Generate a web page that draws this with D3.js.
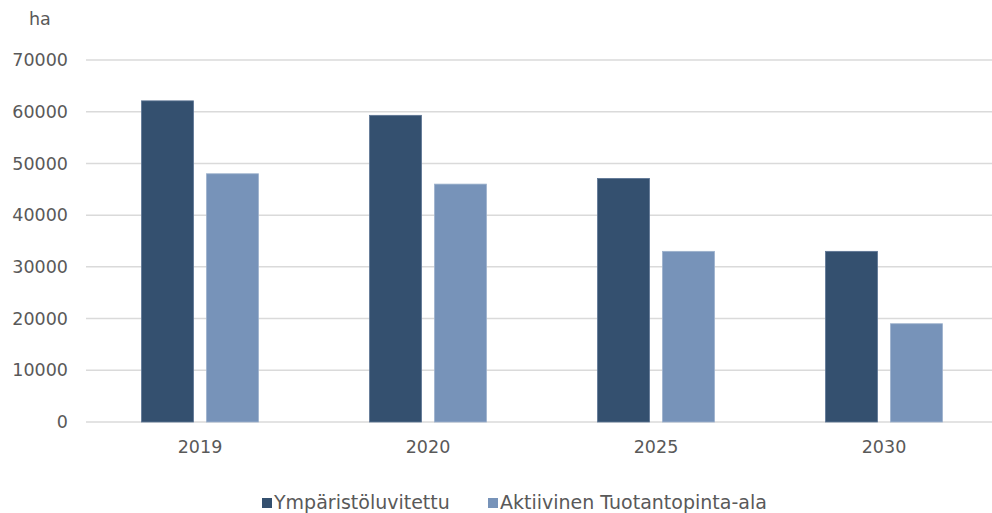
<!DOCTYPE html>
<html>
<head>
<meta charset="utf-8">
<script src="https://cdn.jsdelivr.net/npm/d3@7"></script>
<style>
  body { margin: 0; background: #fff; }
  svg { display: block; font-family: "DejaVu Sans", Verdana, sans-serif; }
  .tick text { fill: #595959; }
</style>
</head>
<body>
<svg id="chart" width="992" height="513"></svg>
<script>
// data
var years = ['2019', '2020', '2025', '2030']
var seriesNames = ['Ympäristöluvitettu', 'Aktiivinen Tuotantopinta-ala']
var ymparistoluvitettu = [62100, 59300, 47100, 33000]
var aktiivinen = [48000, 46000, 33000, 19000]
var yTicks = [0, 10000, 20000, 30000, 40000, 50000, 60000, 70000]
var colors = ['#34506f', '#7793b9']

var margin = { top: 60, right: -6, bottom: 91, left: 86 }
var width = 992, height = 513
var fontSize = '17.5px'

var svg = d3.select('#chart')

var x = d3.scaleBand()
  .domain(years)
  .range([margin.left, width - margin.right])
  .paddingInner(0.487)
  .paddingOuter(0.2435)

var xSub = d3.scaleBand()
  .domain([0, 1])
  .range([0, x.bandwidth()])
  .paddingInner(0.2)

var y = d3.scaleLinear()
  .domain([0, 70000])
  .range([height - margin.bottom, margin.top])

// grid lines
svg.append('g')
  .selectAll('line')
  .data(yTicks)
  .join('line')
  .attr('x1', margin.left)
  .attr('x2', width)
  .attr('y1', d => y(d))
  .attr('y2', d => y(d))
  .attr('stroke', '#dadada')
  .attr('stroke-width', 1.5)

// y axis labels
var yAxis = d3.axisLeft(y).tickValues(yTicks).tickFormat(d3.format('d')).tickSize(0).tickPadding(18)
svg.append('g')
  .attr('transform', 'translate(' + margin.left + ',0)')
  .call(yAxis)
  .call(g => g.select('.domain').remove())
  .selectAll('text')
  .style('font-size', fontSize)
  .style('font-family', '"DejaVu Sans", Verdana, sans-serif')

// x axis labels
var xAxis = d3.axisBottom(x).tickSize(0).tickPadding(19)
svg.append('g')
  .attr('transform', 'translate(0,' + (height - margin.bottom) + ')')
  .call(xAxis)
  .call(g => g.select('.domain').remove())
  .selectAll('text')
  .style('font-size', fontSize)
  .style('font-family', '"DejaVu Sans", Verdana, sans-serif')

// bars
var rows = years.map((yr, i) => ({ year: yr, values: [ymparistoluvitettu[i], aktiivinen[i]] }))

svg.append('g')
  .selectAll('g')
  .data(rows)
  .join('g')
  .attr('transform', d => 'translate(' + x(d.year) + ',0)')
  .selectAll('rect')
  .data(d => d.values.map((v, k) => ({ k: k, v: v })))
  .join('rect')
  .attr('x', d => xSub(d.k))
  .attr('width', xSub.bandwidth())
  .attr('y', d => y(d.v))
  .attr('height', d => y(0) - y(d.v))
  .attr('fill', d => colors[d.k])
  .attr('stroke', d => d.k === 0 ? '#5d7594' : '#9db1cc')
  .attr('stroke-width', 0.8)

// unit label
svg.append('text')
  .attr('x', 29)
  .attr('y', 25)
  .attr('fill', '#595959')
  .style('font-size', fontSize)
  .text('ha')

// legend
var legendX = [262, 488]
var legend = svg.append('g')
  .selectAll('g')
  .data(seriesNames)
  .join('g')
  .attr('transform', (d, i) => 'translate(' + legendX[i] + ',498)')

legend.append('rect')
  .attr('width', 10)
  .attr('height', 10)
  .attr('fill', (d, i) => colors[i])

legend.append('text')
  .attr('x', 12)
  .attr('y', 11)
  .attr('fill', '#595959')
  .style('font-size', '19px')
  .text(d => d)
</script>
</body>
</html>
